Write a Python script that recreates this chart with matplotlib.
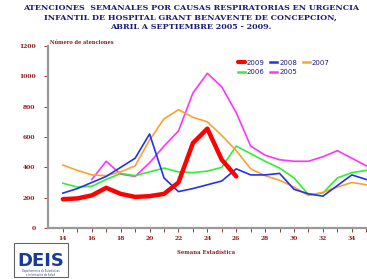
import matplotlib.pyplot as plt
from matplotlib.patches import Rectangle

weeks = list(range(14, 36))
y2009 = [190, 195, 215, 265, 225, 205, 210, 225, 300, 560, 655, 450, 340]
y2008 = [230, 260, 300, 340, 400, 460, 620, 330, 240, 260, 285, 310, 390, 350, 350, 360, 255, 225, 210, 280, 350, 320]
y2007 = [415, 380, 350, 345, 370, 410, 580, 720, 780, 730, 700, 610, 510, 390, 345, 315, 270, 215, 235, 270, 300, 285]
y2006 = [295, 270, 275, 320, 360, 345, 370, 395, 370, 365, 375, 400, 540, 490, 440, 395, 330, 220, 230, 330, 365, 380]
weeks2005 = list(range(16, 36))
y2005 = [320, 440, 355, 340, 430, 540, 640, 890, 1020, 930, 760, 540, 480, 450, 440, 440, 470, 510, 460, 410]

red_txt = '#8b1a1a'
navy = '#1c1c78'

fig = plt.figure(figsize=(3.67, 2.79), dpi=100)
ax = fig.add_axes([48 / 367, (279 - 228) / 279, 319 / 367, 182 / 279])

ax.plot(weeks2005, y2005, color='#ff33ff', lw=1.2, label='2005', zorder=2)
ax.plot(weeks, y2006, color='#33ee33', lw=1.2, label='2006', zorder=2)
ax.plot(weeks, y2007, color='#ffa033', lw=1.2, label='2007', zorder=2)
ax.plot(weeks, y2008, color='#2233ee', lw=1.2, label='2008', zorder=3)
ax.plot(weeks[:len(y2009)], y2009, color='#ff0000', lw=3.2, label='2009',
        solid_capstyle='round', zorder=4)

ax.set_xlim(12.97, 35.05)
ax.set_ylim(0, 1200)
ax.set_yticks(range(0, 1201, 200))
ax.set_xticks(weeks, minor=True)
ax.set_xticks(range(14, 35, 2))
for s in ['top', 'right']:
    ax.spines[s].set_visible(False)
for s in ['left', 'bottom']:
    ax.spines[s].set_color('#999999')
    ax.spines[s].set_linewidth(1.6)
ax.tick_params(axis='both', which='both', colors=red_txt, length=3, width=0.6,
               labelsize=4.3)
ax.tick_params(axis='y', pad=6)
ax.tick_params(axis='x', pad=3)
for lab in ax.get_xticklabels() + ax.get_yticklabels():
    lab.set_fontfamily('DejaVu Serif')
    lab.set_fontweight('bold')

handles, labels = ax.get_legend_handles_labels()
order = [4, 1, 3, 0, 2]
leg = ax.legend([handles[i] for i in order], [labels[i] for i in order],
                ncol=3, loc='upper left', bbox_to_anchor=(0.575, 0.96),
                frameon=False, fontsize=5, handlelength=1.0, handletextpad=0.3,
                columnspacing=0.8, labelspacing=0.5, labelcolor=navy)
for line in leg.get_lines():
    line.set_linewidth(1.8)
leg.get_lines()[0].set_linewidth(3)

fig.text(0.52, 0.985,
         'ATENCIONES  SEMANALES POR CAUSAS RESPIRATORIAS EN URGENCIA\n'
         'INFANTIL DE HOSPITAL GRANT BENAVENTE DE CONCEPCION,\n'
         'ABRIL A SEPTIEMBRE 2005 - 2009.',
         ha='center', va='top', fontsize=5.8, fontweight='heavy',
         family='DejaVu Serif', color=navy, linespacing=1.2)
fig.text(50 / 367, 1 - 42 / 279, 'Número de atenciones', fontsize=3.6,
         fontweight='bold', family='DejaVu Serif', color=red_txt, va='center')
fig.text(206 / 367, 1 - 252 / 279, 'Semana Estadística', fontsize=3.8,
         fontweight='bold', family='DejaVu Serif', color=red_txt,
         ha='center', va='center')

# logo box
fig.patches.append(Rectangle((14 / 367, 2 / 279), 54 / 367, 34 / 279,
                             transform=fig.transFigure, fill=False,
                             edgecolor='#666666', lw=0.8))
fig.text(41 / 367, 18 / 279, 'DEIS', fontsize=13, fontweight='bold',
         color='#1a3a9a', ha='center', va='center', family='DejaVu Sans')
fig.text(41 / 367, 6 / 279, 'Departamento de Estadísticas\ne Información de Salud',
         fontsize=1.8, color='#1a3a9a', ha='center', va='center',
         linespacing=1.0)

fig.savefig('out.png', dpi=100)
